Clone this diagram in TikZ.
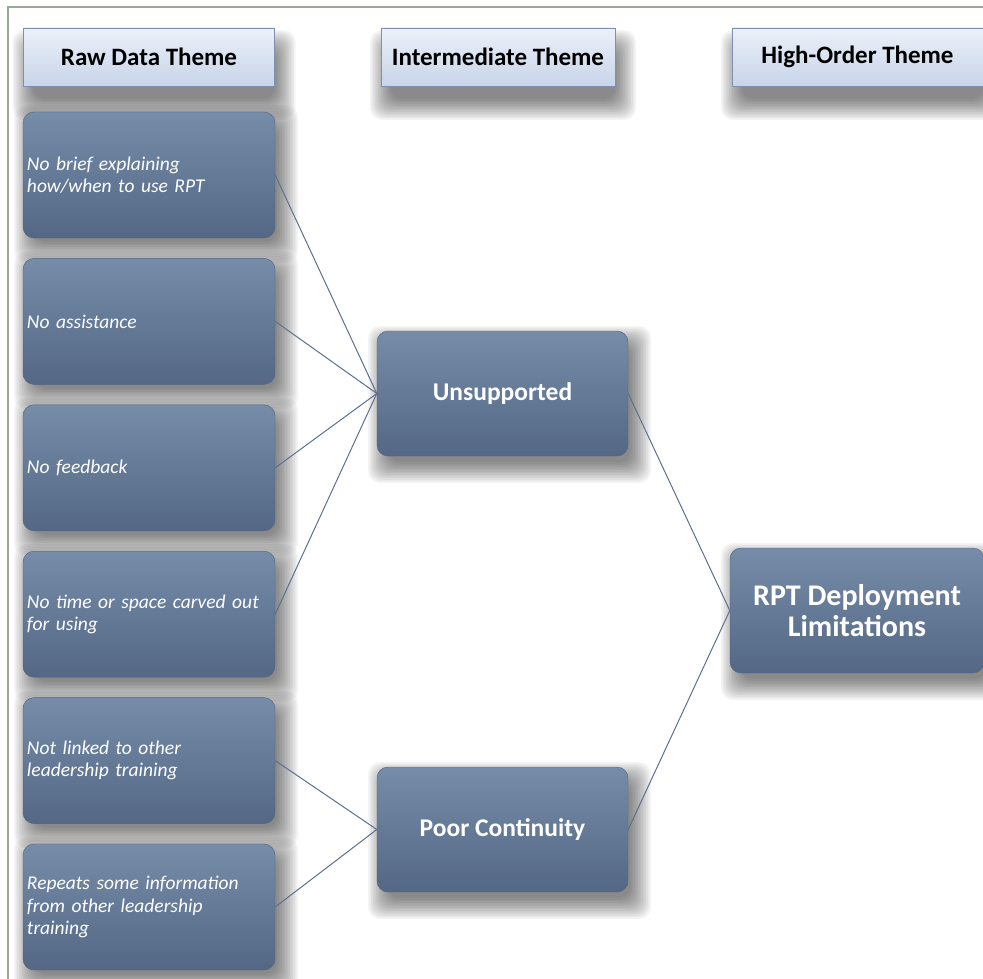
\documentclass[tikz,border=0pt]{standalone}
\usepackage{fontspec}
\setmainfont{Carlito}
\usetikzlibrary{positioning,backgrounds}
\definecolor{boxtop}{RGB}{118,140,168}
\definecolor{boxbot}{RGB}{84,104,134}
\definecolor{boxline}{RGB}{80,98,125}
\definecolor{hdrtop}{RGB}{236,241,249}
\definecolor{hdrbot}{RGB}{199,212,233}
\definecolor{hdrline}{RGB}{125,145,175}
\definecolor{frameline}{RGB}{150,168,150}
\definecolor{linkline}{RGB}{92,112,142}
\begin{document}
\begin{tikzpicture}[x=1pt,y=-1pt,
  header/.style={rectangle,draw=hdrline,top color=hdrtop,bottom color=hdrbot,
    minimum width=251pt,minimum height=58pt,inner sep=0pt,font=\fontsize{25}{30}\selectfont\bfseries},
  rawbox/.style={rectangle,rounded corners=11pt,draw=boxline,top color=boxtop,bottom color=boxbot,
    minimum width=252pt,minimum height=126pt,text width=244pt,inner sep=4pt,align=left,
    text=white,font=\fontsize{19.5}{22.5}\selectfont\itshape},
  themebox/.style={rectangle,rounded corners=11pt,draw=boxline,top color=boxtop,bottom color=boxbot,
    minimum width=251pt,minimum height=125pt,inner sep=4pt,align=center,
    text=white,font=\fontsize{25.5}{30}\selectfont\bfseries},
  shade/.style={black,opacity=0.045,rounded corners=12pt},
  link/.style={draw=linkline,line width=1pt}]
\useasboundingbox (0,0) rectangle (983,979);
\clip (0,0) rectangle (983,979);

\node[header] (rawhdr) at (149,57) {Raw Data Theme};
\node[header,minimum width=234pt] (midhdr) at (498,57) {Intermediate Theme};
\node[header] (highhdr) at (857.5,57) {High-Order Theme};

\node[rawbox] (brief) at (149,175) {No brief explaining\\how/when to use RPT};
\node[rawbox,below=20pt of brief] (assist) {No assistance};
\node[rawbox,below=20pt of assist] (feedback) {No feedback};
\node[rawbox,below=20pt of feedback] (time) {No time or space carved out\\for using};
\node[rawbox,below=20pt of time] (linked) {Not linked to other\\leadership training};
\node[rawbox,below=20pt of linked] (repeats) {Repeats some information\\from other leadership\\training};

\node[themebox] (unsup) at (502.5,393.5) {Unsupported};
\node[themebox] (poor) at (502.5,829.5) {Poor Continuity};
\node[themebox,minimum width=254pt,font=\fontsize{30}{31}\selectfont\bfseries] (rpt) at (857,610.5) {RPT Deployment\\Limitations};

\draw[link] (brief.east) -- (unsup.west);
\draw[link] (assist.east) -- (unsup.west);
\draw[link] (feedback.east) -- (unsup.west);
\draw[link] (time.east) -- (unsup.west);
\draw[link] (linked.east) -- (poor.west);
\draw[link] (repeats.east) -- (poor.west);
\draw[link] (unsup.east) -- (rpt.west);
\draw[link] (poor.east) -- (rpt.west);

\begin{scope}[on background layer]
\draw[frameline,line width=1.2pt] (8,7) rectangle (1010,1010);
\foreach \n/\dx/\dy in {rawhdr/5/18,midhdr/5/18,highhdr/5/18,brief/7/9,assist/7/9,feedback/7/9,time/7/9,
  linked/7/9,repeats/7/9,unsup/7/11,poor/7/11,rpt/7/11} {
  \foreach \k in {0,...,13} {
    \pgfmathsetmacro\e{\k*1.6-5}
    \fill[shade] ([shift={({\dx-(\e)},{\dy-(\e)})}]\n.north west) rectangle ([shift={({\dx+\e},{\dy+\e})}]\n.south east);
  }
}
\end{scope}
\end{tikzpicture}
\end{document}
